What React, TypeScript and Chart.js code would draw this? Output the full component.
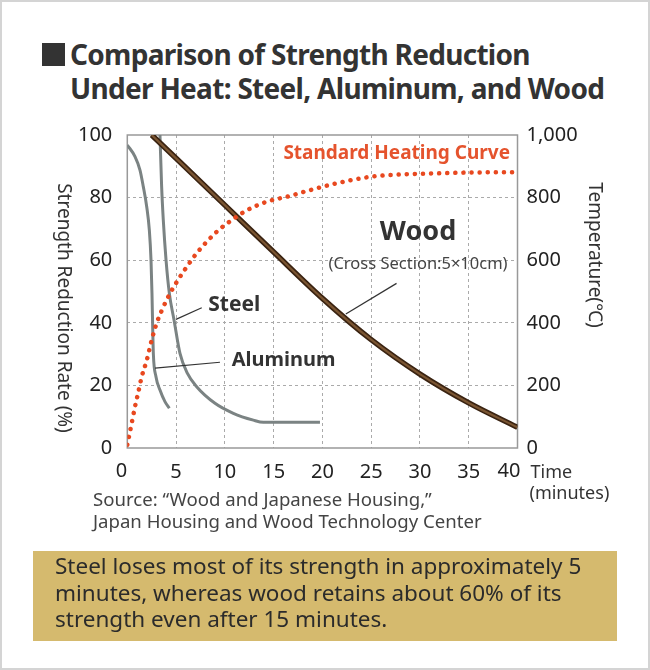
import React, { useEffect, useRef } from "react";
import { Chart, registerables } from "chart.js";

Chart.register(...registerables);

// time (minutes) and strength (%)
const steelTime = [3.35, 3.52, 3.69, 3.97, 4.31, 4.79, 5.4, 6.15, 7.11, 8.99, 10.87, 12.92, 13.94, 19.75];
const steelStrength = [100, 83.5, 72.8, 60.1, 49.4, 40.9, 30.2, 23.9, 19.6, 14.3, 11.1, 8.9, 8.2, 8.2];

const aluminumTime = [0, 0.79, 1.3, 1.64, 1.99, 2.26, 2.43, 2.53, 2.6, 2.67, 2.94, 3.35, 3.86, 4.31];
const aluminumStrength = [96.8, 93.1, 88.8, 83.5, 77.1, 69.6, 60.1, 49.4, 38.8, 30.2, 22.8, 18.5, 14.8, 12.7];

const woodTime = [2.5, 10, 15, 20, 25, 30, 35, 40];
const woodStrength = [100, 77.6, 62.6, 47.8, 34.6, 23.6, 14.4, 6.6];

// standard heating curve, temperature (°C)
const heatTime = [0, 0.45, 0.79, 1.14, 1.48, 2, 2.5, 3, 3.7, 4.38, 5.2, 6.1, 7.1, 8.15, 9.35, 10.7, 12.3, 14.3, 16.4, 18.4, 21.1, 24.6, 28, 31.4, 34.8, 40];
const heatTemp = [10, 79, 132, 180, 228, 281, 345, 398, 451, 494, 537, 579, 622, 659, 696, 728, 760, 787, 803, 821, 843, 865, 874, 877, 880, 881];

const FONT = "'Noto Sans', sans-serif";

const pts = (xs: number[], ys: number[]) => xs.map((x, i) => ({ x, y: ys[i] }));

const overlay = {
  id: "overlay",
  beforeDatasetsDraw(chart: any) {
    const { ctx, chartArea: a } = chart;
    ctx.save();
    ctx.strokeStyle = "#999";
    ctx.lineWidth = 1.5;
    ctx.strokeRect(a.left, a.top, a.right - a.left, a.bottom - a.top);
    ctx.restore();
  },
  afterDatasetsDraw(chart: any) {
    const { ctx, scales } = chart;
    const X = (v: number) => scales.x.getPixelForValue(v);
    const Y = (v: number) => scales.y.getPixelForValue(v);
    const text = (s: string, x: number, y: number, font: string, color: string, align: CanvasTextAlign = "left") => {
      ctx.font = font;
      ctx.fillStyle = color;
      ctx.textAlign = align;
      ctx.textBaseline = "middle";
      ctx.fillText(s, X(x), Y(y));
    };
    const line = (x1: number, y1: number, x2: number, y2: number) => {
      ctx.beginPath();
      ctx.moveTo(X(x1), Y(y1));
      ctx.lineTo(X(x2), Y(y2));
      ctx.stroke();
    };
    ctx.save();
    ctx.strokeStyle = "#333";
    ctx.lineWidth = 1.2;
    line(7.63, 44.8, 4.99, 41.1);
    line(9.5, 27.4, 2.84, 25.5);
    line(27.6, 52.6, 22.4, 42.8);
    text("Standard Heating Curve", 16.0, 94.2, `bold 19px ${FONT}`, "#e5532d");
    text("Wood", 29.8, 69.0, `bold 27px ${FONT}`, "#333", "center");
    text("(Cross Section:5×10cm)", 29.8, 58.8, `16.5px ${FONT}`, "#444", "center");
    text("Steel", 8.3, 45.7, `bold 21px ${FONT}`, "#333");
    text("Aluminum", 10.7, 28.1, `bold 20px ${FONT}`, "#333");
    ctx.restore();
  },
  afterDraw(chart: any) {
    const { ctx, chartArea: a } = chart;
    ctx.save();
    ctx.fillStyle = "#333";
    ctx.textBaseline = "middle";
    ctx.font = `19px ${FONT}`;
    ctx.textAlign = "center";
    // both axis titles read top to bottom
    ctx.save();
    ctx.translate(63, 308);
    ctx.rotate(Math.PI / 2);
    ctx.fillText("Strength Reduction Rate (%)", 0, 0);
    ctx.restore();
    ctx.save();
    ctx.translate(594, 255);
    ctx.rotate(Math.PI / 2);
    ctx.fillText("Temperature(℃)", 0, 0);
    ctx.restore();
    // end labels of the time axis sit inside the frame
    ctx.fillStyle = "#222";
    ctx.font = `20px ${FONT}`;
    ctx.textAlign = "right";
    ctx.fillText("0", a.left, a.bottom + 23);
    ctx.fillText("40", a.right + 3, a.bottom + 23);
    ctx.fillStyle = "#333";
    ctx.textAlign = "left";
    ctx.font = `18px ${FONT}`;
    ctx.fillText("Time", a.right + 13, a.bottom + 25);
    ctx.fillText("(minutes)", a.right + 12, a.bottom + 46);
    ctx.restore();
  },
};

const ChartBox = () => {
  const canvasRef = useRef<HTMLCanvasElement>(null);

  useEffect(() => {
    if (!canvasRef.current) return;
    const gridColor = (c: any) =>
      c.tick && (c.tick.value === c.scale.min || c.tick.value === c.scale.max) ? "rgba(0,0,0,0)" : "#aaa";
    const tickFont = { family: FONT, size: 20 };
    const line = (color: string, width: number, order: number) => ({
      borderColor: color,
      borderWidth: width,
      pointRadius: 0,
      cubicInterpolationMode: "monotone",
      order,
    });
    const chart = new Chart(canvasRef.current, {
      type: "line",
      data: {
        datasets: [
          {
            label: "Standard Heating Curve",
            data: pts(heatTime, heatTemp),
            yAxisID: "y2",
            ...line("#e8481f", 4.5, 0),
            borderDash: [0.1, 8],
            borderCapStyle: "round",
          },
          { label: "Wood", data: pts(woodTime, woodStrength), yAxisID: "y", ...line("#7a5532", 2.2, 1) },
          { label: "Wood outline", data: pts(woodTime, woodStrength), yAxisID: "y", ...line("#3a2311", 5.5, 2) },
          { label: "Steel", data: pts(steelTime, steelStrength), yAxisID: "y", ...line("#7b8383", 3, 3) },
          { label: "Aluminum", data: pts(aluminumTime, aluminumStrength), yAxisID: "y", ...line("#7b8383", 3, 4) },
        ],
      },
      options: {
        animation: false,
        responsive: true,
        maintainAspectRatio: false,
        layout: { padding: { left: 0, right: 0, top: 135, bottom: 0 } },
        plugins: { legend: { display: false }, tooltip: { enabled: false } },
        scales: {
          x: {
            type: "linear",
            min: 0,
            max: 40,
            afterFit: (s: any) => { s.height = 222; },
            ticks: {
              stepSize: 5,
              font: tickFont,
              color: "#222",
              padding: 12,
              maxRotation: 0,
              callback: (v: any) => (v === 0 || v === 40 ? "" : String(v)),
            },
            grid: { color: gridColor, drawTicks: false, lineWidth: 1 },
            border: { display: false, dash: [3, 3] },
          },
          y: {
            position: "left",
            min: 0,
            max: 100,
            afterFit: (s: any) => { s.width = 127.3; },
            ticks: { stepSize: 20, font: tickFont, color: "#222", padding: 15 },
            grid: { color: gridColor, drawTicks: false, lineWidth: 1 },
            border: { display: false, dash: [3, 3] },
          },
          y2: {
            position: "right",
            min: 0,
            max: 1000,
            afterFit: (s: any) => { s.width = 132.5; },
            ticks: {
              stepSize: 200,
              font: tickFont,
              color: "#222",
              padding: 9,
              callback: (v: any) => Number(v).toLocaleString("en-US"),
            },
            grid: { display: false, drawTicks: false },
            border: { display: false },
          },
        },
      },
      plugins: [overlay],
    } as any);
    return () => chart.destroy();
  }, []);

  return (
    <div style={{ position: "absolute", left: 0, top: 0, width: 650, height: 670 }}>
      <canvas ref={canvasRef} />
    </div>
  );
};

export default function App() {
  return (
    <div style={{ position: "absolute", left: 0, top: 0, width: 650, height: 670, background: "#fff", fontFamily: FONT, overflow: "hidden" }}>
      <div style={{ position: "absolute", left: 42, top: 43, width: 22.5, height: 23, background: "#333" }} />
      <div style={{ position: "absolute", left: 70, top: 37, fontSize: 28, fontWeight: 700, lineHeight: "34px", letterSpacing: -0.7, color: "#333", whiteSpace: "nowrap" }}>
        Comparison of Strength Reduction
        <br />
        Under Heat: Steel, Aluminum, and Wood
      </div>
      <ChartBox />
      <div style={{ position: "absolute", left: 93, top: 488, fontSize: 18.6, lineHeight: "22px", color: "#444", whiteSpace: "nowrap" }}>
        Source: “Wood and Japanese Housing,”
        <br />
        Japan Housing and Wood Technology Center
      </div>
      <div style={{ position: "absolute", left: 33, top: 551, width: 584, height: 90, background: "#d5ba6e" }}>
        <div style={{ position: "absolute", left: 22, top: 2, fontSize: 22.5, lineHeight: "26.5px", color: "#2b2b2b", whiteSpace: "nowrap" }}>
          Steel loses most of its strength in approximately 5
          <br />
          minutes, whereas wood retains about 60% of its
          <br />
          strength even after 15 minutes.
        </div>
      </div>
      <div style={{ position: "absolute", inset: 0, border: "2px solid #d4d4d4", pointerEvents: "none" }} />
    </div>
  );
}
